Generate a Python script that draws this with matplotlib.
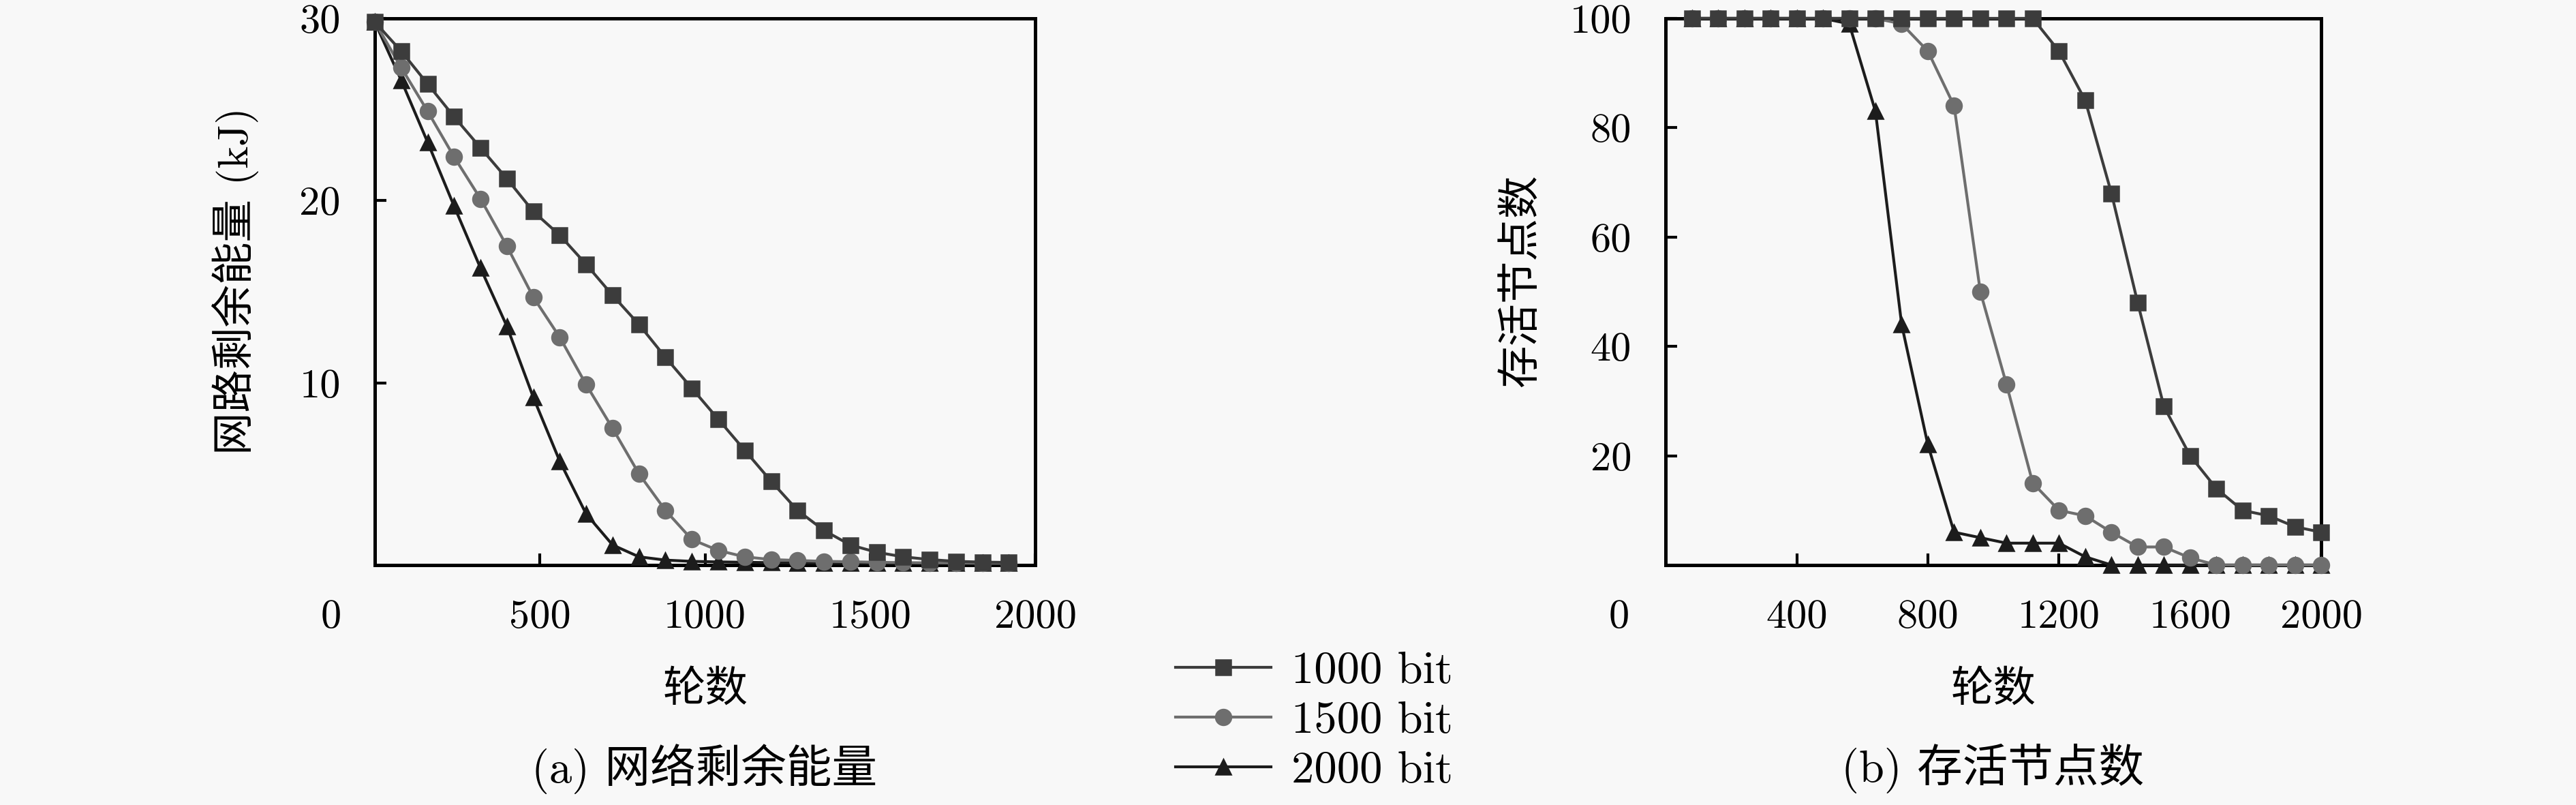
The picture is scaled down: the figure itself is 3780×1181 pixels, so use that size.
#%%
import matplotlib
matplotlib.use('Agg')
import matplotlib.pyplot as plt

plt.rcParams['font.family'] = ['cmr10', 'Noto Sans CJK SC']
plt.rcParams['axes.formatter.use_mathtext'] = True

#%%
# Data
# (a) remaining network energy (kJ), rounds 0..1920 step 80
rounds_a = [0, 80, 160, 240, 320, 400, 480, 560, 640, 720, 800, 880, 960,
            1040, 1120, 1200, 1280, 1360, 1440, 1520, 1600, 1680, 1760, 1840, 1920]
energy_1000 = [29.8, 28.2, 26.4, 24.6, 22.9, 21.2, 19.4, 18.1, 16.5, 14.8, 13.2, 11.4, 9.7,
               8.0, 6.3, 4.6, 3.0, 1.9, 1.1, 0.7, 0.45, 0.3, 0.2, 0.16, 0.14]
energy_1500 = [29.8, 27.3, 24.9, 22.4, 20.1, 17.5, 14.7, 12.5, 9.9, 7.5, 5.0, 3.0, 1.4,
               0.8, 0.45, 0.3, 0.25, 0.2, 0.18, 0.15, 0.13, 0.12, 0.11, 0.1, 0.1]
energy_2000 = [29.8, 26.6, 23.2, 19.7, 16.3, 13.1, 9.2, 5.7, 2.8, 1.1, 0.45, 0.27, 0.2,
               0.17, 0.15, 0.13, 0.12, 0.11, 0.1, 0.1, 0.1, 0.1, 0.1, 0.1, 0.1]

# (b) alive nodes, rounds 80..2000 step 80
rounds_b = [80, 160, 240, 320, 400, 480, 560, 640, 720, 800, 880, 960, 1040,
            1120, 1200, 1280, 1360, 1440, 1520, 1600, 1680, 1760, 1840, 1920, 2000]
alive_1000 = [100, 100, 100, 100, 100, 100, 100, 100, 100, 100, 100, 100, 100,
              100, 94, 85, 68, 48, 29, 20, 14, 10, 9, 7, 6]
alive_1500 = [100, 100, 100, 100, 100, 100, 100, 100, 99, 94, 84, 50, 33,
              15, 10, 9, 6, 3.3, 3.3, 1.3, 0, 0, 0, 0, 0]
alive_2000 = [100, 100, 100, 100, 100, 100, 99, 83, 44, 22, 6, 5, 4,
              4, 4, 1.5, 0, 0, 0, 0, 0, 0, 0, 0, 0]

labels = ['1000 bit', '1500 bit', '2000 bit']
colors = ['#3c3c3c', '#6e6e6e', '#1c1c1c']
markers = ['s', 'o', '^']

bg = '#f8f8f8'

#%%
fig = plt.figure(figsize=(12.6, 3.937), dpi=300, facecolor=bg)
ax1 = fig.add_axes([0.1455, 0.2981, 0.2564, 0.6790], facecolor=bg)
ax2 = fig.add_axes([0.6466, 0.2981, 0.2545, 0.6790], facecolor=bg)


def draw(ax, x, series):
    handles = []
    # draw 2000 first so that 1000 ends up on top
    for i in [2, 1, 0]:
        h, = ax.plot(x, series[i], color=colors[i], marker=markers[i], markersize=5.5,
                     linewidth=1.0, markeredgewidth=0.6, markeredgecolor=colors[i],
                     clip_on=False, zorder=3 + (2 - i), label=labels[i])
        handles.append(h)
    for s in ax.spines.values():
        s.set_linewidth(1.2)
    ax.tick_params(direction='in', length=4, width=1.0, labelsize=14.5, pad=12,
                   top=False, right=False)
    return handles[::-1]


h = draw(ax1, rounds_a, [energy_1000, energy_1500, energy_2000])
ax1.set_xlim(0, 2000)
ax1.set_ylim(0, 30)
ax1.set_xticks([500, 1000, 1500, 2000])
ax1.set_xticklabels(['500', '1000', '1500', '2000'])
ax1.set_yticks([10, 20, 30])
ax1.set_yticklabels(['10', '20', '30'])
ax1.set_xlabel('轮数', fontsize=15, labelpad=12)
ax1.set_ylabel('网路剩余能量 (kJ)', fontsize=15)
ax1.yaxis.set_label_coords(-0.175, 0.52)
ax1.annotate('0', xy=(0, 0), xycoords='axes fraction', xytext=(-15.5, -18.5),
             textcoords='offset points', ha='center', va='center', fontsize=14.5)

draw(ax2, rounds_b, [alive_1000, alive_1500, alive_2000])
ax2.set_xlim(0, 2000)
ax2.set_ylim(0, 100)
ax2.set_xticks([400, 800, 1200, 1600, 2000])
ax2.set_xticklabels(['400', '800', '1200', '1600', '2000'])
ax2.set_yticks([20, 40, 60, 80, 100])
ax2.set_yticklabels(['20', '40', '60', '80', '100'])
ax2.set_xlabel('轮数', fontsize=15, labelpad=12)
ax2.set_ylabel('存活节点数', fontsize=15)
ax2.yaxis.set_label_coords(-0.19, 0.52)
ax2.annotate('0', xy=(0, 0), xycoords='axes fraction', xytext=(-16.5, -18.5),
             textcoords='offset points', ha='center', va='center', fontsize=14.5)

# captions
fig.text(0.2733, 0.045, '(a) 网络剩余能量', ha='center', va='center', fontsize=16)
fig.text(0.7735, 0.045, '(b) 存活节点数', ha='center', va='center', fontsize=16)

# legend between the panels
fig.legend(handles=h, labels=labels, loc='center left', bbox_to_anchor=(0.4563, 0.104),
           frameon=False, fontsize=16, handlelength=2.1, handletextpad=0.45,
           labelspacing=0.2, borderpad=0, borderaxespad=0)

fig.savefig('out.png', dpi=300, facecolor=bg)
